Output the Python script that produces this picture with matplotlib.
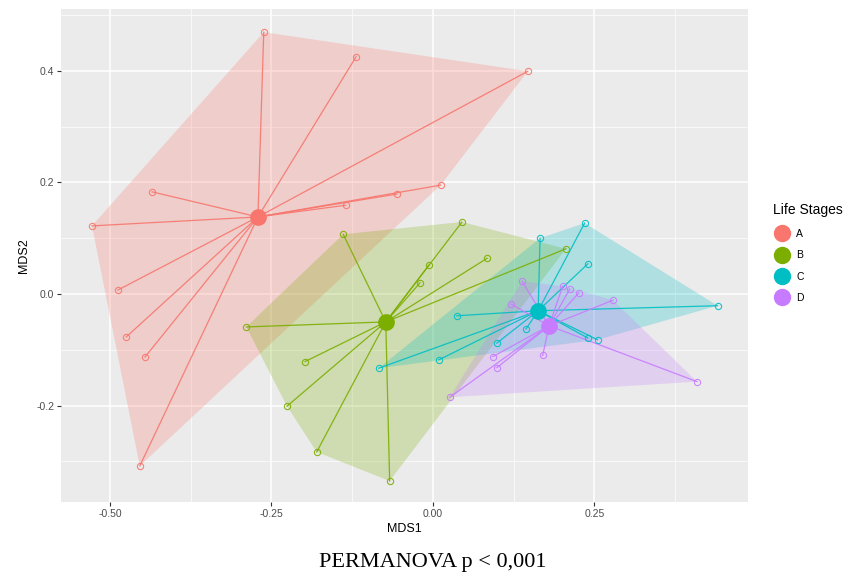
import numpy as np
import matplotlib
matplotlib.use("Agg")
import matplotlib.pyplot as plt
from matplotlib.lines import Line2D

plt.rcParams['font.family'] = ['Liberation Sans', 'DejaVu Sans']

# Life stage groups, sample scores (MDS1, MDS2)
stages = ['A', 'B', 'C', 'D']
colors = ['#F8766D', '#7CAE00', '#00BFC4', '#C77CFF']

a_x = [-0.262, -0.119, 0.147, -0.435, 0.012, -0.056, -0.135, -0.528, -0.488, -0.475, -0.446, -0.454]
a_y = [0.469, 0.425, 0.399, 0.183, 0.195, 0.179, 0.159, 0.122, 0.007, -0.077, -0.113, -0.308]

b_x = [-0.139, 0.045, 0.084, 0.206, -0.006, -0.020, -0.289, -0.198, -0.226, -0.180, -0.067]
b_y = [0.107, 0.129, 0.064, 0.081, 0.052, 0.020, -0.059, -0.121, -0.201, -0.283, -0.335]

c_x = [0.166, 0.235, 0.240, 0.441, 0.037, 0.009, -0.084, 0.099, 0.144, 0.255, 0.240]
c_y = [0.100, 0.127, 0.054, -0.021, -0.039, -0.118, -0.133, -0.088, -0.063, -0.082, -0.079]

d_x = [0.138, 0.121, 0.201, 0.212, 0.226, 0.279, 0.409, 0.026, 0.093, 0.099, 0.170]
d_y = [0.023, -0.018, 0.014, 0.009, 0.002, -0.011, -0.157, -0.185, -0.112, -0.132, -0.110]

# group centroids
cent_x = [-0.271, -0.073, 0.163, 0.180]
cent_y = [0.138, -0.050, -0.030, -0.057]

xs = [a_x, b_x, c_x, d_x]
ys = [a_y, b_y, c_y, d_y]


def hull(px, py):
    # monotone chain convex hull
    pts = sorted(zip(px, py))
    def cross(o, a, b):
        return (a[0] - o[0]) * (b[1] - o[1]) - (a[1] - o[1]) * (b[0] - o[0])
    lower, upper = [], []
    for p in pts:
        while len(lower) >= 2 and cross(lower[-2], lower[-1], p) <= 0:
            lower.pop()
        lower.append(p)
    for p in reversed(pts):
        while len(upper) >= 2 and cross(upper[-2], upper[-1], p) <= 0:
            upper.pop()
        upper.append(p)
    return np.array(lower[:-1] + upper[:-1])


fig = plt.figure(figsize=(8.58, 5.79), dpi=100)
ax = fig.add_axes([61 / 858, 1 - 502 / 579, (748 - 61) / 858, (502 - 9) / 579])
ax.set_facecolor('#EBEBEB')

# hulls first
for i in range(4):
    h = hull(xs[i], ys[i])
    ax.fill(h[:, 0], h[:, 1], color=colors[i], alpha=0.25, lw=0, zorder=2)

# spider lines
for i in range(4):
    for x, y in zip(xs[i], ys[i]):
        ax.plot([cent_x[i], x], [cent_y[i], y], color=colors[i], lw=0.9, alpha=0.9, zorder=3)

# points and centroids
for i in range(4):
    ax.plot(xs[i], ys[i], 'o', mfc='none', mec=colors[i], ms=4.5, mew=0.8, alpha=0.9, zorder=4)
    ax.plot(cent_x[i], cent_y[i], 'o', color=colors[i], ms=11, zorder=5)

ax.set_xlim(-0.576, 0.488)
ax.set_ylim(-0.3726, 0.5105)
ax.set_xticks([-0.50, -0.25, 0.00, 0.25])
ax.set_xticklabels(['-0.50', '-0.25', '0.00', '0.25'])
ax.set_yticks([-0.2, 0.0, 0.2, 0.4])
ax.set_yticklabels(['-0.2', '0.0', '0.2', '0.4'])
ax.set_xticks([-0.375, -0.125, 0.125, 0.375], minor=True)
ax.set_yticks([-0.3, -0.1, 0.1, 0.3, 0.5], minor=True)
ax.grid(which='major', color='white', lw=1.1, zorder=0)
ax.grid(which='minor', color='white', lw=0.5, zorder=0)
ax.set_axisbelow(True)
for s in ax.spines.values():
    s.set_visible(False)
ax.tick_params(which='major', length=3, color='#333333', labelsize=7.5, labelcolor='#4D4D4D', pad=2)
ax.tick_params(which='minor', length=0)
ax.set_xlabel('MDS1', fontsize=9, labelpad=3)
ax.set_ylabel('MDS2', fontsize=9, labelpad=4)

handles = [Line2D([], [], marker='o', ls='none', color=c, ms=11.5) for c in colors]
leg = fig.legend(handles, stages, title='Life Stages', loc='upper left',
                 bbox_to_anchor=(766 / 858, 1 - 196 / 579), frameon=False,
                 fontsize=7.5, title_fontsize=10, handletextpad=0.6,
                 handlelength=1.6, labelspacing=1.1, borderpad=0.2)
leg._legend_box.align = 'left'

fig.text(433 / 858, 1 - 562 / 579, 'PERMANOVA p < 0,001', ha='center', va='center',
         fontsize=16, family=['Liberation Serif', 'DejaVu Serif'])

fig.savefig('out.png', dpi=100)
